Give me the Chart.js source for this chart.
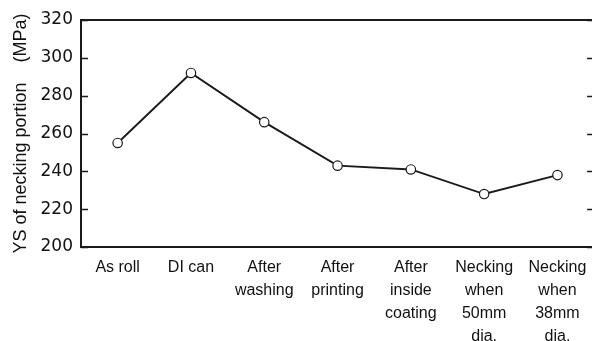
<!DOCTYPE html>
<html>
<head>
<meta charset="utf-8">
<script src="https://cdn.jsdelivr.net/npm/chart.js@4.4.0/dist/chart.umd.min.js"></script>
<style>
html, body { margin: 0; padding: 0; overflow: hidden; background: #fff; width: 592px; height: 341px; }
#wrap { position: absolute; left: 0; top: 0; width: 600px; height: 341px; }
</style>
</head>
<body>
<div id="wrap"><canvas id="c" width="600" height="341"></canvas></div>
<script>
const categories = [
  ["As roll"],
  ["DI can"],
  ["After", "washing"],
  ["After", "printing"],
  ["After", "inside", "coating"],
  ["Necking", "when", "50mm", "dia."],
  ["Necking", "when", "38mm", "dia."]
];
const ysValues = [255, 292, 266, 243, 241, 228, 238];
const yMin = 200, yMax = 320, yStep = 20;
const yTitle = "YS of necking portion    (MPa)";

const ink = '#1a1a1a';

const frame = {
  id: 'frame',
  afterDraw(chart) {
    const ctx = chart.ctx, a = chart.chartArea, y = chart.scales.y;
    ctx.save();
    ctx.strokeStyle = ink;
    ctx.lineWidth = 2;
    ctx.beginPath();
    ctx.moveTo(a.left - 1, a.top);
    ctx.lineTo(a.right, a.top);
    ctx.stroke();
    ctx.beginPath();
    ctx.moveTo(a.right, a.top);
    ctx.lineTo(a.right, a.bottom);
    ctx.stroke();
    ctx.lineWidth = 1.5;
    y.ticks.forEach(t => {
      const py = Math.round(y.getPixelForValue(t.value)) + 0.5;
      ctx.beginPath();
      ctx.moveTo(a.left, py); ctx.lineTo(a.left + 7, py);
      ctx.moveTo(a.right, py); ctx.lineTo(a.right - 7, py);
      ctx.stroke();
    });
    ctx.restore();
  }
};

new Chart(document.getElementById('c'), {
  type: 'line',
  data: {
    labels: categories,
    datasets: [{
      data: ysValues,
      borderColor: ink,
      borderWidth: 1.9,
      tension: 0,
      pointRadius: 4.7,
      pointHoverRadius: 4.7,
      pointBackgroundColor: '#fff',
      pointBorderColor: ink,
      pointBorderWidth: 1.2
    }]
  },
  options: {
    responsive: false,
    animation: false,
    events: [],
    layout: { padding: { top: 20, right: 4, bottom: 0, left: 0 } },
    plugins: { legend: { display: false }, tooltip: { enabled: false } },
    scales: {
      x: {
        offset: true,
        grid: { display: true, drawOnChartArea: false, drawTicks: false },
        border: { display: true, color: ink, width: 2 },
        ticks: {
          autoSkip: false, maxRotation: 0, minRotation: 0,
          color: '#111', padding: 9,
          font: { family: 'Liberation Sans, Arial, sans-serif', size: 16, lineHeight: 1.44 }
        },
        afterFit(s) { s.height = 94; }
      },
      y: {
        min: yMin, max: yMax,
        grid: { display: true, drawOnChartArea: false, drawTicks: false },
        border: { display: true, color: ink, width: 2 },
        ticks: {
          stepSize: yStep, color: '#111', padding: 8,
          font: { family: 'DejaVu Sans, sans-serif', size: 17 }
        },
        title: {
          display: true, text: yTitle, color: '#111',
          font: { family: 'Liberation Sans, Arial, sans-serif', size: 18 },
          padding: { top: 10, bottom: 0 }
        },
        afterFit(s) { s.width = 81; }
      }
    }
  },
  plugins: [frame]
});
</script>
</body>
</html>
